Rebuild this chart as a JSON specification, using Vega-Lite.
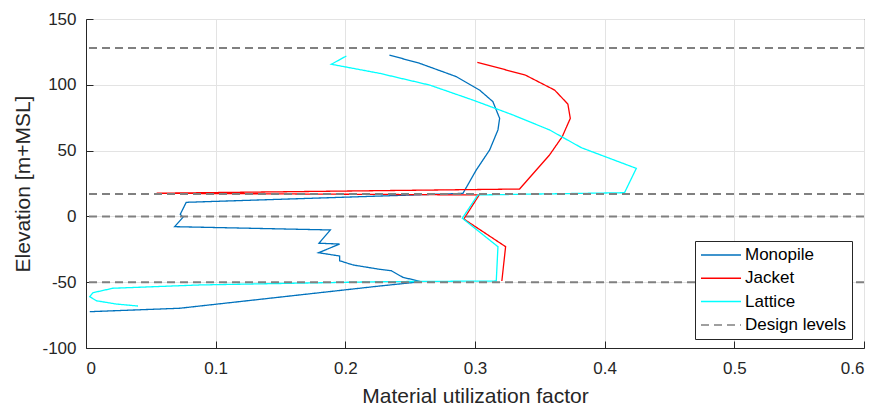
{
  "$schema": "https://vega.github.io/schema/vega-lite/v6.json",
  "width": 778,
  "height": 329,
  "autosize": {"type": "none"},
  "padding": {"left": 86, "top": 19, "right": 16, "bottom": 61},
  "background": "white",
  "config": {
    "view": {"stroke": "#262626", "strokeWidth": 1},
    "font": "Liberation Sans",
    "axis": {
      "labelFont": "Liberation Sans",
      "titleFont": "Liberation Sans",
      "labelFontSize": 17,
      "titleFontSize": 21,
      "titleFontWeight": "normal",
      "labelColor": "#262626",
      "titleColor": "#262626",
      "domainColor": "#262626",
      "tickColor": "#262626",
      "gridColor": "#e3e3e3",
      "gridWidth": 1
    },
    "legend": {
      "labelFont": "Liberation Sans",
      "labelFontSize": 17,
      "labelColor": "#000000"
    }
  },
  "datasets": {
    "curves": [
      {"series": "Monopile", "i": 1, "x": 0.234, "y": 122.6},
      {"series": "Monopile", "i": 2, "x": 0.2574, "y": 116.3},
      {"series": "Monopile", "i": 3, "x": 0.2856, "y": 106.2},
      {"series": "Monopile", "i": 4, "x": 0.3035, "y": 96.0},
      {"series": "Monopile", "i": 5, "x": 0.3138, "y": 87.2},
      {"series": "Monopile", "i": 6, "x": 0.319, "y": 74.5},
      {"series": "Monopile", "i": 7, "x": 0.3177, "y": 65.7},
      {"series": "Monopile", "i": 8, "x": 0.3113, "y": 50.5},
      {"series": "Monopile", "i": 9, "x": 0.301, "y": 35.3},
      {"series": "Monopile", "i": 10, "x": 0.2907, "y": 17.5},
      {"series": "Monopile", "i": 11, "x": 0.0773, "y": 10.7},
      {"series": "Monopile", "i": 12, "x": 0.0727, "y": 1.6},
      {"series": "Monopile", "i": 13, "x": 0.0748, "y": -0.7},
      {"series": "Monopile", "i": 14, "x": 0.0683, "y": -7.8},
      {"series": "Monopile", "i": 15, "x": 0.1884, "y": -10.3},
      {"series": "Monopile", "i": 16, "x": 0.1797, "y": -20.4},
      {"series": "Monopile", "i": 17, "x": 0.1956, "y": -21.0},
      {"series": "Monopile", "i": 18, "x": 0.1794, "y": -27.6},
      {"series": "Monopile", "i": 19, "x": 0.1956, "y": -30.1},
      {"series": "Monopile", "i": 20, "x": 0.1956, "y": -33.7},
      {"series": "Monopile", "i": 21, "x": 0.2059, "y": -36.9},
      {"series": "Monopile", "i": 22, "x": 0.2265, "y": -40.2},
      {"series": "Monopile", "i": 23, "x": 0.2355, "y": -41.3},
      {"series": "Monopile", "i": 24, "x": 0.2444, "y": -46.3},
      {"series": "Monopile", "i": 25, "x": 0.2586, "y": -49.6},
      {"series": "Monopile", "i": 26, "x": 0.2265, "y": -52.9},
      {"series": "Monopile", "i": 27, "x": 0.0723, "y": -69.8},
      {"series": "Monopile", "i": 28, "x": 0.0029, "y": -72.4},
      {"series": "Jacket", "i": 1, "x": 0.3018, "y": 117.1},
      {"series": "Jacket", "i": 2, "x": 0.3388, "y": 107.4},
      {"series": "Jacket", "i": 3, "x": 0.3614, "y": 96.0},
      {"series": "Jacket", "i": 4, "x": 0.3716, "y": 85.4},
      {"series": "Jacket", "i": 5, "x": 0.3735, "y": 74.5},
      {"series": "Jacket", "i": 6, "x": 0.3673, "y": 60.6},
      {"series": "Jacket", "i": 7, "x": 0.3575, "y": 46.7},
      {"series": "Jacket", "i": 8, "x": 0.3344, "y": 20.8},
      {"series": "Jacket", "i": 9, "x": 0.0545, "y": 17.6},
      {"series": "Jacket", "i": 10, "x": 0.3032, "y": 16.3},
      {"series": "Jacket", "i": 11, "x": 0.2914, "y": -2.0},
      {"series": "Jacket", "i": 12, "x": 0.3236, "y": -23.0},
      {"series": "Jacket", "i": 13, "x": 0.3207, "y": -49.1},
      {"series": "Lattice", "i": 1, "x": 0.2008, "y": 121.9},
      {"series": "Lattice", "i": 2, "x": 0.1892, "y": 115.6},
      {"series": "Lattice", "i": 3, "x": 0.2265, "y": 108.7},
      {"series": "Lattice", "i": 4, "x": 0.265, "y": 99.8},
      {"series": "Lattice", "i": 5, "x": 0.2984, "y": 88.4},
      {"series": "Lattice", "i": 6, "x": 0.3292, "y": 77.1},
      {"series": "Lattice", "i": 7, "x": 0.3575, "y": 65.7},
      {"series": "Lattice", "i": 8, "x": 0.382, "y": 52.2},
      {"series": "Lattice", "i": 9, "x": 0.4244, "y": 36.5},
      {"series": "Lattice", "i": 10, "x": 0.4153, "y": 18.0},
      {"series": "Lattice", "i": 11, "x": 0.3022, "y": 16.3},
      {"series": "Lattice", "i": 12, "x": 0.2902, "y": -1.4},
      {"series": "Lattice", "i": 13, "x": 0.3177, "y": -23.0},
      {"series": "Lattice", "i": 14, "x": 0.3164, "y": -49.1},
      {"series": "Lattice", "i": 15, "x": 0.2265, "y": -49.6},
      {"series": "Lattice", "i": 16, "x": 0.0876, "y": -52.1},
      {"series": "Lattice", "i": 17, "x": 0.0207, "y": -54.6},
      {"series": "Lattice", "i": 18, "x": 0.0053, "y": -58.0},
      {"series": "Lattice", "i": 19, "x": 0.0029, "y": -61.0},
      {"series": "Lattice", "i": 20, "x": 0.008, "y": -64.1},
      {"series": "Lattice", "i": 21, "x": 0.0234, "y": -66.6},
      {"series": "Lattice", "i": 22, "x": 0.0401, "y": -68.1}
    ],
    "levels": [
      {"series": "Design levels", "y": 128},
      {"series": "Design levels", "y": 17},
      {"series": "Design levels", "y": 0},
      {"series": "Design levels", "y": -50}
    ]
  },
  "layer": [
    {
      "data": {"name": "curves"},
      "mark": {"type": "line", "strokeWidth": 1.3, "clip": true},
      "encoding": {
        "x": {
          "field": "x", "type": "quantitative",
          "scale": {"domain": [0, 0.6], "nice": false, "zero": false},
          "axis": {
            "title": "Material utilization factor",
            "values": [0, 0.1, 0.2, 0.3, 0.4, 0.5, 0.6],
            "labelExpr": "'' + datum.value",
            "tickSize": -7,
            "labelPadding": 19,
            "titlePadding": 9,
            "grid": true
          }
        },
        "y": {
          "field": "y", "type": "quantitative",
          "scale": {"domain": [-100, 150], "nice": false, "zero": false},
          "axis": {
            "title": "Elevation [m+MSL]",
            "values": [-100, -50, 0, 50, 100, 150],
            "labelExpr": "'' + datum.value",
            "tickSize": -7,
            "labelPadding": 17,
            "titlePadding": 8,
            "grid": true
          }
        },
        "order": {"field": "i", "type": "quantitative"},
        "color": {
          "field": "series", "type": "nominal",
          "scale": {
            "domain": ["Monopile", "Jacket", "Lattice", "Design levels"],
            "range": ["#0072BD", "#FF0000", "#00FFFF", "#808080"]
          },
          "legend": {
            "title": null,
            "orient": "none",
            "legendX": 609,
            "legendY": 222,
            "symbolType": "stroke",
            "symbolSize": 1600,
            "symbolStrokeWidth": 1.5,
            "clipHeight": 18,
            "strokeColor": "#262626",
            "fillColor": "white",
            "padding": 5,
            "rowPadding": 5.3,
            "labelOffset": 3
          }
        },
        "strokeDash": {
          "field": "series", "type": "nominal",
          "scale": {
            "domain": ["Monopile", "Jacket", "Lattice", "Design levels"],
            "range": [[1, 0], [1, 0], [1, 0], [8, 5]]
          },
          "legend": {
            "title": null,
            "orient": "none",
            "legendX": 609,
            "legendY": 222,
            "symbolType": "stroke",
            "symbolSize": 1600,
            "symbolStrokeWidth": 1.5,
            "clipHeight": 18,
            "strokeColor": "#262626",
            "fillColor": "white",
            "padding": 5,
            "rowPadding": 5.3,
            "labelOffset": 3
          }
        }
      }
    },
    {
      "data": {"name": "levels"},
      "mark": {"type": "rule", "strokeWidth": 2},
      "encoding": {
        "y": {"field": "y", "type": "quantitative"},
        "color": {"field": "series", "type": "nominal"},
        "strokeDash": {"field": "series", "type": "nominal"}
      }
    }
  ]
}
